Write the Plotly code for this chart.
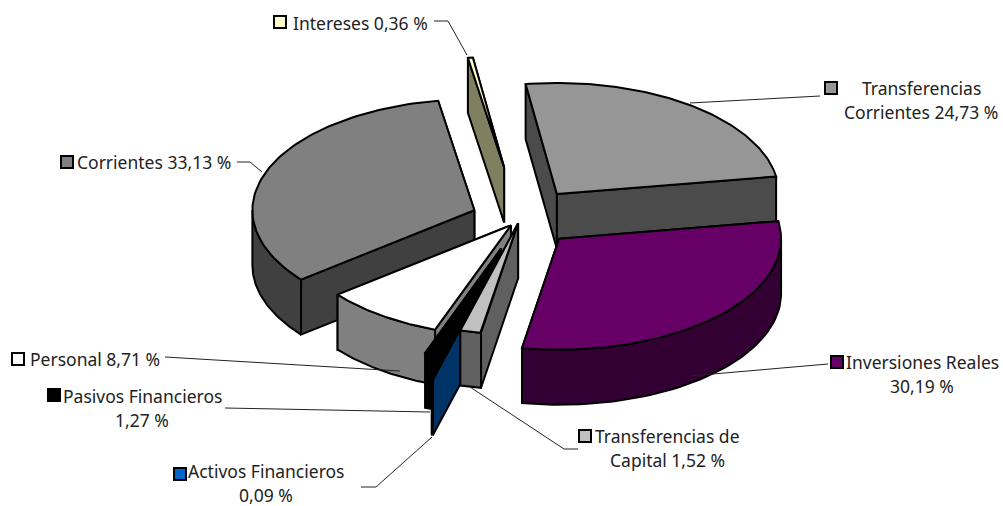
## tarta 3D "explotada" del presupuesto, dibujada con trazos scatter rellenos
import numpy as np
import plotly.graph_objects as go

# orden horario desde la porcion de Transferencias Corrientes
categories = ['Transferencias Corrientes', 'Inversiones Reales', 'Transferencias de Capital',
              'Activos Financieros', 'Pasivos Financieros', 'Personal', 'Corrientes', 'Intereses']
values = [24.73, 30.19, 1.52, 0.09, 1.27, 8.71, 33.13, 0.36]

# apariencia por porcion
pulls = [0.28, 0.25, 0.04, 0.50, 0.28, 0.07, 0.22, 0.47]
top_colors = ['#969696', '#660066', '#c0c0c0', '#0066cc', '#000000', '#ffffff', '#808080', '#ffffcc']
wall_colors = ['#4b4b4b', '#330033', '#606060', '#003366', '#000000', '#808080', '#404040', '#808060']
draw_order = [7, 6, 0, 1, 5, 4, 3, 2]

CX, CY = 520, 219
RX, RY = 222, 111
DEPTH = 55
START = -8.1

fig = go.Figure()


def project(deg, cx, cy, dy=0):
    rad = np.radians(deg)
    return cx + RX * np.sin(rad), cy - RY * np.cos(rad) + dy


def face(xs, ys, color):
    xs, ys = list(xs), list(ys)
    fig.add_trace(go.Scatter(
        x=xs + xs[:1], y=ys + ys[:1], mode='lines', fill='toself', fillcolor=color,
        line=dict(color='#000000', width=2), hoverinfo='skip', showlegend=False
    ))


edges = START + np.cumsum([0] + values) * 3.6
for i in draw_order:
    a0, a1 = edges[i], edges[i + 1]
    mid = np.radians((a0 + a1) / 2)
    cx = CX + pulls[i] * RX * np.sin(mid)
    cy = CY - pulls[i] * RY * np.cos(mid)

    # paredes radiales, primero la de atras
    walls = []
    for a in (a0, a1):
        x, y = project(a, cx, cy)
        walls.append((([cx, x, x, cx], [cy, y, y + DEPTH, cy + DEPTH]), (cy + y) / 2))
    for (wx, wy), _ in sorted(walls, key=lambda w: w[1]):
        face(wx, wy, wall_colors[i])

    # borde exterior, solo la parte que mira al frente
    lo, hi = max(a0, 90), min(a1, 270)
    if hi > lo:
        arc = np.linspace(lo, hi, 60)
        x, y = project(arc, cx, cy)
        face(np.r_[x, x[::-1]], np.r_[y, y[::-1] + DEPTH], wall_colors[i])

    # cara superior
    arc = np.linspace(a0, a1, 90)
    x, y = project(arc, cx, cy)
    face(np.r_[cx, x], np.r_[cy, y], top_colors[i])

# etiquetas: texto, centro x, y del centro, color del cuadro, cuadro x, cuadro y
labels = [
    ('Intereses 0,36 %', 360, 23, 7, 280, 22),
    ('Transferencias', 921, 88, 0, 831, 88),
    ('Corrientes 24,73 %', 921, 112, None, 0, 0),
    ('Corrientes 33,13 %', 154, 162, 6, 67, 162),
    ('Personal 8,71 %', 95, 359, 5, 18, 359),
    ('Pasivos Financieros', 142, 396, 4, 54, 395),
    ('1,27 %', 142, 420, None, 0, 0),
    ('Activos Financieros', 266, 471, 3, 180, 474),
    ('0,09 %', 266, 495, None, 0, 0),
    ('Inversiones Reales', 922, 362, 1, 837, 362),
    ('30,19 %', 922, 386, None, 0, 0),
    ('Transferencias de', 667, 436, 2, 585, 436),
    ('Capital 1,52 %', 667, 460, None, 0, 0),
]
for text, x, y, idx, sx, sy in labels:
    fig.add_annotation(x=x, y=y, text=text, showarrow=False, xanchor='center', yanchor='middle',
                       font=dict(size=17.5, color='#222222', family='Noto Sans'))
    if idx is not None:
        fig.add_shape(type='rect', x0=sx - 6, x1=sx + 6, y0=sy - 6, y1=sy + 6,
                      fillcolor=top_colors[idx], line=dict(color='#000000', width=2))

# lineas guia
leaders = [
    ([434, 448, 467], [21, 21, 55]),
    ([820, 690], [96, 103]),
    ([237, 250, 262], [162, 162, 172]),
    ([165, 400], [357, 371]),
    ([225, 430], [408, 412]),
    ([361, 376, 432], [487, 487, 437]),
    ([470, 564, 578], [387, 449, 449]),
    ([828, 690], [364, 376]),
]
for lx, ly in leaders:
    fig.add_trace(go.Scatter(x=lx, y=ly, mode='lines', line=dict(color='#222222', width=1),
                             hoverinfo='skip', showlegend=False))

fig.update_layout(
    width=1003, height=506,
    margin=dict(l=0, r=0, t=0, b=0),
    paper_bgcolor='#ffffff', plot_bgcolor='#ffffff',
    xaxis=dict(range=[0, 1003], visible=False, fixedrange=True),
    yaxis=dict(range=[506, 0], visible=False, fixedrange=True),
    showlegend=False
)

# sin el margen por defecto del body
fig.write_html("out.html", config=dict(displayModeBar=False),
               post_script="document.body.style.margin='0';document.body.style.overflow='hidden';")
